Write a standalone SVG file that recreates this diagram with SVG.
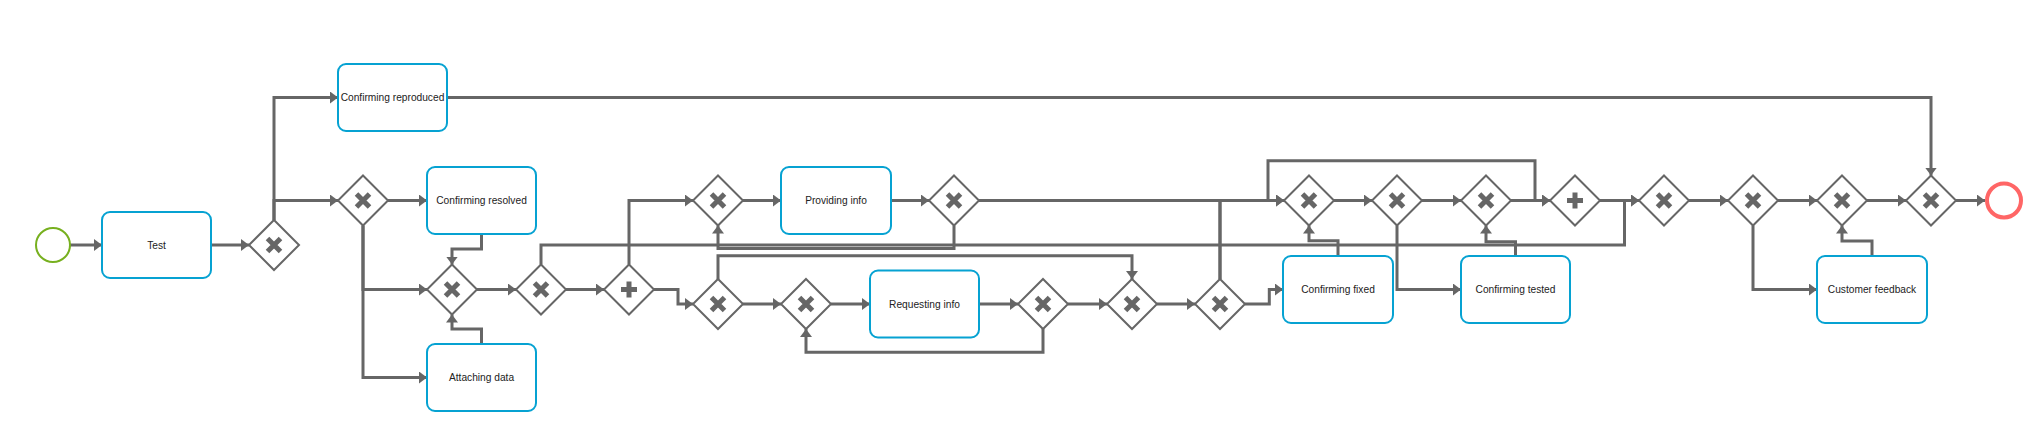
<svg xmlns="http://www.w3.org/2000/svg" xmlns:xlink="http://www.w3.org/1999/xlink" width="2032" height="422" viewBox="0 0 2032 422">
<style>
.task{fill:#fff;stroke:#06a2d2;stroke-width:2}
.lbl{font-family:"Liberation Sans",Arial,sans-serif;font-size:10.2px;fill:#222;text-anchor:middle;dominant-baseline:central}
.gw{fill:#fff;stroke:#666;stroke-width:2}
.mk{stroke:#666;stroke-width:5;fill:none}
.flow path{fill:none;stroke:#666;stroke-width:3;marker-end:url(#arr)}
</style>
<defs>
<marker id="arr" markerUnits="userSpaceOnUse" markerWidth="10" markerHeight="12" refX="8" refY="6" orient="auto">
<path d="M0,0 L8,6 L0,12 z" fill="#666"/>
</marker>
<g id="xgw">
<polygon class="gw" points="0,-25 25,0 0,25 -25,0"/>
<path class="mk" d="M-6.5,-6.5 L6.5,6.5 M-6.5,6.5 L6.5,-6.5"/>
</g>
<g id="pgw">
<polygon class="gw" points="0,-25 25,0 0,25 -25,0"/>
<path class="mk" d="M-8,0 H8 M0,-8 V8"/>
</g>
</defs>
<rect width="2032" height="422" fill="#fff"/>
<g id="connectors" class="flow">
<path d="M70,245 H102"/>
<path d="M211,245 H249"/>
<path d="M274,220 V97.5 H338"/>
<path d="M274,220 V200.5 H338"/>
<path d="M388,200.5 H427"/>
<path d="M363,225.5 V289.5 H427"/>
<path d="M363,225.5 V377.5 H427"/>
<path d="M481.5,234 V249 H452 V264.5"/>
<path d="M481.5,344 V329 H452 V314.5"/>
<path d="M477,289.5 H516"/>
<path d="M566,289.5 H604"/>
<path d="M541,264.5 V245 H1624.5 V200.5 H1639"/>
<path d="M629,264.5 V200.5 H693"/>
<path d="M654,289.5 H678 V304 H693"/>
<path d="M743,200.5 H781"/>
<path d="M891,200.5 H929"/>
<path d="M954,225.5 V248.5 H718 V225.5"/>
<path d="M979,200.5 H1284"/>
<path d="M743,304 H781"/>
<path d="M718,279 V255.7 H1132 V279"/>
<path d="M831,304 H870"/>
<path d="M979,304 H1018"/>
<path d="M1043,329 V352.3 H806 V329"/>
<path d="M1068,304 H1107"/>
<path d="M1157,304 H1195"/>
<path d="M1220,279 V200.5 H1284"/>
<path d="M1245,304 H1269.3 V289.5 H1283"/>
<path d="M1338,256 V240.7 H1309 V225.5"/>
<path d="M1334,200.5 H1372"/>
<path d="M1220,279 V200.5 H1268 V160.7 H1535 V200.5 H1550"/>
<path d="M1397,225.5 V289.5 H1461"/>
<path d="M1422,200.5 H1461"/>
<path d="M1515.5,256 V241.7 H1486 V225.5"/>
<path d="M1511,200.5 H1550"/>
<path d="M1600,200.5 H1639"/>
<path d="M1689,200.5 H1728"/>
<path d="M1753,225.5 V289.5 H1817"/>
<path d="M1778,200.5 H1817"/>
<path d="M1872,256 V241 H1842 V225.5"/>
<path d="M1867,200.5 H1906"/>
<path d="M447,97.5 H1931 V175.5"/>
<path d="M1956,200.5 H1985"/>
</g>
<g id="start"><circle cx="53" cy="245" r="17" fill="#fff" stroke="#77b01f" stroke-width="2"/></g>
<g id="end"><circle cx="2004" cy="200.5" r="17" fill="#fff" stroke="#ff6666" stroke-width="4"/></g>
<g id="t_test"><rect class="task" x="102" y="212" width="109" height="66" rx="8"/><text class="lbl" x="156.5" y="245">Test</text></g>
<g id="t_confrep"><rect class="task" x="338" y="64" width="109" height="67" rx="8"/><text class="lbl" x="392.5" y="97.5">Confirming reproduced</text></g>
<g id="t_confres"><rect class="task" x="427" y="167" width="109" height="67" rx="8"/><text class="lbl" x="481.5" y="200.5">Confirming resolved</text></g>
<g id="t_attach"><rect class="task" x="427" y="344" width="109" height="67" rx="8"/><text class="lbl" x="481.5" y="377.5">Attaching data</text></g>
<g id="t_provide"><rect class="task" x="781" y="167" width="110" height="67" rx="8"/><text class="lbl" x="836" y="200.5">Providing info</text></g>
<g id="t_request"><rect class="task" x="870" y="270.5" width="109" height="67" rx="8"/><text class="lbl" x="924.5" y="304">Requesting info</text></g>
<g id="t_fixed"><rect class="task" x="1283" y="256" width="110" height="67" rx="8"/><text class="lbl" x="1338" y="289.5">Confirming fixed</text></g>
<g id="t_tested"><rect class="task" x="1461" y="256" width="109" height="67" rx="8"/><text class="lbl" x="1515.5" y="289.5">Confirming tested</text></g>
<g id="t_feedback"><rect class="task" x="1817" y="256" width="110" height="67" rx="8"/><text class="lbl" x="1872" y="289.5">Customer feedback</text></g>
<g id="g1"><use xlink:href="#xgw" x="274" y="245"/></g>
<g id="g2"><use xlink:href="#xgw" x="363" y="200.5"/></g>
<g id="g3"><use xlink:href="#xgw" x="452" y="289.5"/></g>
<g id="g4"><use xlink:href="#xgw" x="541" y="289.5"/></g>
<g id="p1"><use xlink:href="#pgw" x="629" y="289.5"/></g>
<g id="g5"><use xlink:href="#xgw" x="718" y="200.5"/></g>
<g id="g6"><use xlink:href="#xgw" x="718" y="304"/></g>
<g id="g7"><use xlink:href="#xgw" x="954" y="200.5"/></g>
<g id="g8"><use xlink:href="#xgw" x="806" y="304"/></g>
<g id="g9"><use xlink:href="#xgw" x="1043" y="304"/></g>
<g id="g10"><use xlink:href="#xgw" x="1132" y="304"/></g>
<g id="g11"><use xlink:href="#xgw" x="1220" y="304"/></g>
<g id="g12"><use xlink:href="#xgw" x="1309" y="200.5"/></g>
<g id="g13"><use xlink:href="#xgw" x="1397" y="200.5"/></g>
<g id="g14"><use xlink:href="#xgw" x="1486" y="200.5"/></g>
<g id="p2"><use xlink:href="#pgw" x="1575" y="200.5"/></g>
<g id="g15"><use xlink:href="#xgw" x="1664" y="200.5"/></g>
<g id="g16"><use xlink:href="#xgw" x="1753" y="200.5"/></g>
<g id="g17"><use xlink:href="#xgw" x="1842" y="200.5"/></g>
<g id="g18"><use xlink:href="#xgw" x="1931" y="200.5"/></g>
</svg>
